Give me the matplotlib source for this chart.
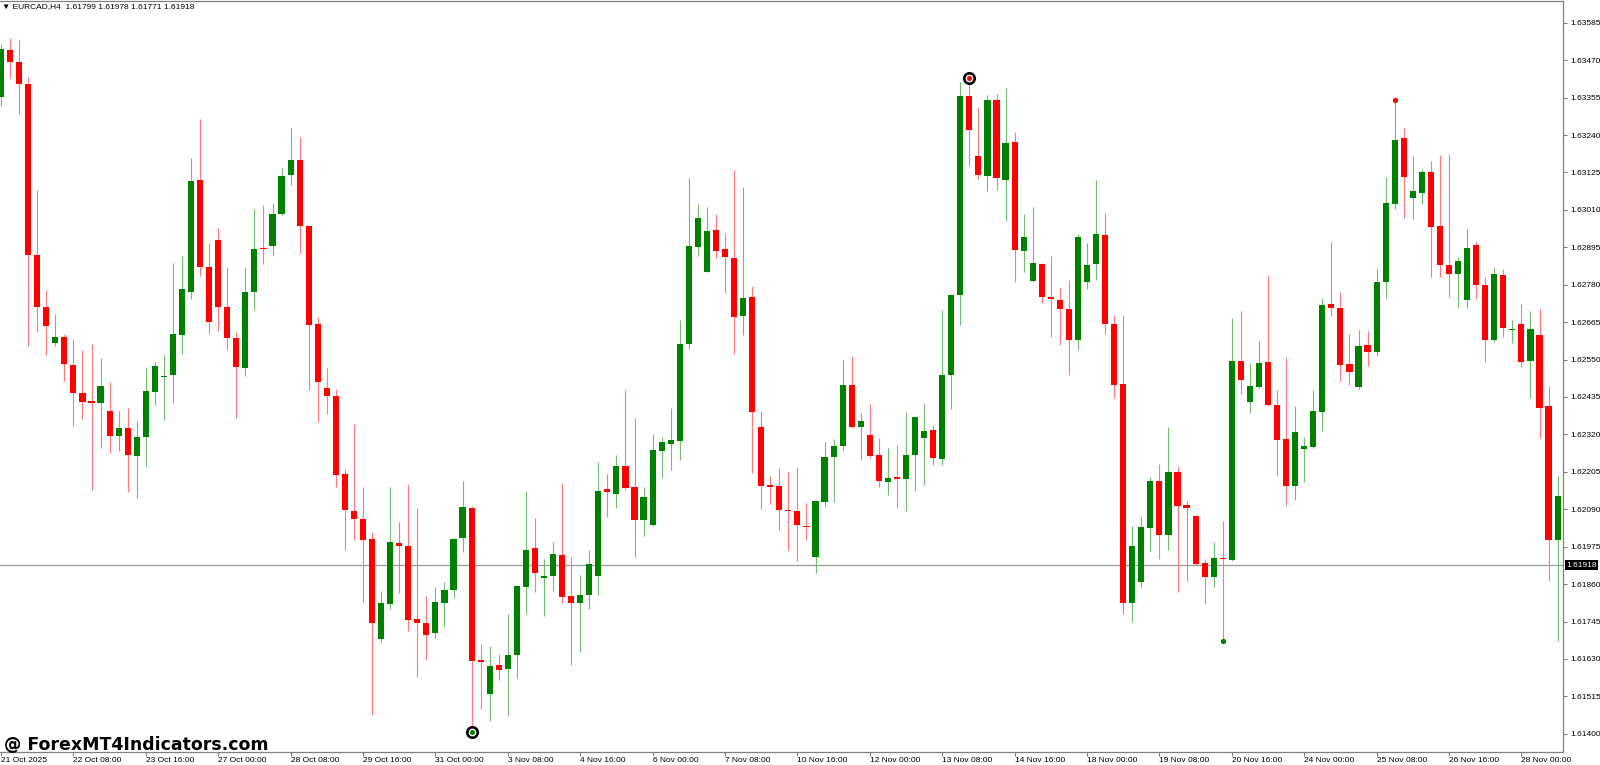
import matplotlib
matplotlib.use("Agg")
import matplotlib.pyplot as plt
from matplotlib.transforms import blended_transform_factory

plt.rcParams['font.family'] = ['Liberation Sans', 'DejaVu Sans']

# ---------------- data (EURCAD, H4) ----------------
opens = [
    1.63358, 1.63500, 1.63464, 1.63397, 1.62870, 1.62713, 1.62602, 1.62618, 1.62534, 1.62447,
    1.62422, 1.62417, 1.62393, 1.62315, 1.62339, 1.62254, 1.62311, 1.62450, 1.62497, 1.62503,
    1.62627, 1.62759, 1.63101, 1.62834, 1.62918, 1.62711, 1.62615, 1.62525, 1.62759, 1.62893,
    1.62900, 1.62996, 1.63116, 1.63163, 1.62959, 1.62659, 1.62462, 1.62438, 1.62197, 1.62084,
    1.62059, 1.62000, 1.61691, 1.61799, 1.61985, 1.61976, 1.61753, 1.61741, 1.61709, 1.61801,
    1.61841, 1.62002, 1.62095, 1.61628, 1.61523, 1.61610, 1.61600, 1.61642, 1.61852, 1.61970,
    1.61880, 1.61886, 1.61949, 1.61823, 1.61801, 1.61828, 1.61885, 1.62153, 1.62138, 1.62224,
    1.62158, 1.62056, 1.62042, 1.62270, 1.62291, 1.62300, 1.62597, 1.62896, 1.62819, 1.62948,
    1.62890, 1.62863, 1.62684, 1.62741, 1.62342, 1.62164, 1.62161, 1.62089, 1.62086, 1.62039,
    1.61943, 1.62113, 1.62252, 1.62285, 1.62471, 1.62344, 1.62317, 1.62257, 1.62174, 1.62188,
    1.62183, 1.62257, 1.62308, 1.62333, 1.62245, 1.62503, 1.62747, 1.63359, 1.63175, 1.63115,
    1.63347, 1.63101, 1.63218, 1.62885, 1.62792, 1.62845, 1.62741, 1.62734, 1.62705, 1.62611,
    1.62789, 1.62843, 1.62933, 1.62659, 1.62474, 1.61802, 1.61865, 1.62033, 1.62177, 1.62011,
    1.62204, 1.62104, 1.62068, 1.61925, 1.61882, 1.61940, 1.61934, 1.62545, 1.62419, 1.62467,
    1.62542, 1.62411, 1.62306, 1.62161, 1.62275, 1.62281, 1.62390, 1.62720, 1.62708, 1.62537,
    1.62467, 1.62594, 1.62572, 1.62788, 1.63029, 1.63232, 1.63047, 1.63062, 1.63128, 1.62959,
    1.62840, 1.62812, 1.62732, 1.62902, 1.62779, 1.62609, 1.62810, 1.62641, 1.62660, 1.62545,
    1.62627, 1.62407, 1.61997,
]
highs = [
    1.63520, 1.63539, 1.63532, 1.63418, 1.63070, 1.62764, 1.62690, 1.62629, 1.62614, 1.62579,
    1.62597, 1.62555, 1.62480, 1.62392, 1.62401, 1.62362, 1.62525, 1.62543, 1.62563, 1.62846,
    1.62869, 1.63169, 1.63289, 1.62908, 1.62953, 1.62834, 1.62635, 1.62834, 1.63014, 1.63025,
    1.63031, 1.63140, 1.63263, 1.63233, 1.62962, 1.62680, 1.62525, 1.62459, 1.62215, 1.62351,
    1.62159, 1.62020, 1.61840, 1.62159, 1.62050, 1.62167, 1.62093, 1.61822, 1.61850, 1.61865,
    1.62002, 1.62176, 1.62099, 1.61675, 1.61670, 1.61645, 1.61769, 1.61856, 1.62146, 1.62063,
    1.61937, 1.61990, 1.62171, 1.61943, 1.61889, 1.61964, 1.62236, 1.62198, 1.62257, 1.62455,
    1.62371, 1.62159, 1.62320, 1.62311, 1.62402, 1.62671, 1.63107, 1.63028, 1.63019, 1.62998,
    1.62938, 1.63133, 1.63079, 1.62777, 1.62392, 1.62192, 1.62218, 1.62204, 1.62219, 1.62110,
    1.62117, 1.62296, 1.62305, 1.62549, 1.62560, 1.62386, 1.62413, 1.62309, 1.62279, 1.62287,
    1.62390, 1.62377, 1.62416, 1.62350, 1.62701, 1.62753, 1.63403, 1.63415, 1.63325, 1.63362,
    1.63367, 1.63385, 1.63250, 1.62998, 1.63019, 1.62848, 1.62867, 1.62771, 1.62794, 1.62936,
    1.62908, 1.63103, 1.63001, 1.62687, 1.62687, 1.62038, 1.62066, 1.62189, 1.62230, 1.62344,
    1.62222, 1.62114, 1.62071, 1.61936, 1.61988, 1.62053, 1.62678, 1.62699, 1.62539, 1.62608,
    1.62810, 1.62458, 1.62557, 1.62407, 1.62311, 1.62455, 1.62740, 1.62912, 1.62758, 1.62630,
    1.62642, 1.62639, 1.62828, 1.63110, 1.63347, 1.63262, 1.63175, 1.63137, 1.63161, 1.63178,
    1.63181, 1.62864, 1.62950, 1.62912, 1.62803, 1.62833, 1.62827, 1.62672, 1.62722, 1.62699,
    1.62704, 1.62470, 1.62192,
]
lows = [
    1.63328, 1.63415, 1.63304, 1.62593, 1.62635, 1.62563, 1.62593, 1.62485, 1.62345, 1.62368,
    1.62150, 1.62278, 1.62263, 1.62270, 1.62143, 1.62125, 1.62224, 1.62410, 1.62365, 1.62416,
    1.62566, 1.62737, 1.62807, 1.62629, 1.62638, 1.62578, 1.62369, 1.62498, 1.62702, 1.62845,
    1.62872, 1.62993, 1.63085, 1.62878, 1.62455, 1.62357, 1.62384, 1.62158, 1.61966, 1.61996,
    1.61804, 1.61457, 1.61681, 1.61783, 1.61834, 1.61717, 1.61574, 1.61627, 1.61694, 1.61732,
    1.61816, 1.61958, 1.61405, 1.61477, 1.61439, 1.61564, 1.61454, 1.61570, 1.61769, 1.61835,
    1.61762, 1.61840, 1.61801, 1.61612, 1.61651, 1.61784, 1.61825, 1.62065, 1.62093, 1.62150,
    1.61942, 1.62009, 1.62039, 1.62186, 1.62212, 1.62240, 1.62584, 1.62867, 1.62818, 1.62861,
    1.62755, 1.62566, 1.62626, 1.62200, 1.62092, 1.62105, 1.62026, 1.61966, 1.61930, 1.61996,
    1.61895, 1.62098, 1.62113, 1.62270, 1.62341, 1.62242, 1.62249, 1.62158, 1.62135, 1.62093,
    1.62086, 1.62147, 1.62165, 1.62227, 1.62225, 1.62398, 1.62656, 1.63145, 1.63106, 1.63067,
    1.63071, 1.62977, 1.62789, 1.62819, 1.62788, 1.62723, 1.62620, 1.62596, 1.62503, 1.62579,
    1.62767, 1.62795, 1.62629, 1.62431, 1.61769, 1.61744, 1.61850, 1.61961, 1.61936, 1.61964,
    1.61837, 1.61870, 1.61919, 1.61798, 1.61850, 1.61685, 1.61930, 1.62443, 1.62387, 1.62462,
    1.62407, 1.62192, 1.62099, 1.62117, 1.62174, 1.62278, 1.62329, 1.62683, 1.62483, 1.62471,
    1.62459, 1.62530, 1.62560, 1.62740, 1.63013, 1.62984, 1.62981, 1.63029, 1.62804, 1.62803,
    1.62741, 1.62707, 1.62710, 1.62735, 1.62543, 1.62603, 1.62618, 1.62600, 1.62527, 1.62432,
    1.62309, 1.61870, 1.61685,
]
closes = [
    1.63505, 1.63466, 1.63397, 1.62870, 1.62711, 1.62654, 1.62618, 1.62537, 1.62447, 1.62419,
    1.62417, 1.62468, 1.62315, 1.62339, 1.62257, 1.62311, 1.62452, 1.62531, 1.62501, 1.62630,
    1.62768, 1.63100, 1.62834, 1.62665, 1.62711, 1.62615, 1.62527, 1.62759, 1.62891, 1.62890,
    1.62996, 1.63115, 1.63164, 1.62959, 1.62657, 1.62482, 1.62438, 1.62195, 1.62089, 1.62060,
    1.61997, 1.61741, 1.61801, 1.61988, 1.61978, 1.61751, 1.61741, 1.61703, 1.61804, 1.61841,
    1.62000, 1.62096, 1.61624, 1.61621, 1.61607, 1.61597, 1.61643, 1.61853, 1.61964, 1.61895,
    1.61886, 1.61951, 1.61820, 1.61802, 1.61828, 1.61922, 1.62147, 1.62143, 1.62224, 1.62155,
    1.62056, 1.62128, 1.62272, 1.62296, 1.62302, 1.62599, 1.62899, 1.62984, 1.62945, 1.62885,
    1.62864, 1.62680, 1.62738, 1.62389, 1.62162, 1.62158, 1.62087, 1.62084, 1.62042, 1.62035,
    1.62114, 1.62252, 1.62285, 1.62473, 1.62344, 1.62360, 1.62254, 1.62177, 1.62185, 1.62183,
    1.62258, 1.62374, 1.62330, 1.62248, 1.62503, 1.62750, 1.63359, 1.63257, 1.63118, 1.63349,
    1.63107, 1.63215, 1.62888, 1.62926, 1.62846, 1.62743, 1.62735, 1.62704, 1.62609, 1.62926,
    1.62842, 1.62935, 1.62660, 1.62473, 1.61802, 1.61976, 1.62036, 1.62177, 1.62011, 1.62206,
    1.62101, 1.62095, 1.61922, 1.61883, 1.61939, 1.61936, 1.62545, 1.62488, 1.62470, 1.62539,
    1.62411, 1.62303, 1.62162, 1.62326, 1.62285, 1.62392, 1.62719, 1.62707, 1.62534, 1.62512,
    1.62593, 1.62572, 1.62789, 1.63031, 1.63226, 1.63110, 1.63067, 1.63125, 1.62956, 1.62840,
    1.62813, 1.62854, 1.62894, 1.62780, 1.62609, 1.62812, 1.62647, 1.62644, 1.62543, 1.62645,
    1.62402, 1.61997, 1.62132,
]

date_labels = ["21 Oct 2025", "22 Oct 08:00", "23 Oct 16:00", "27 Oct 00:00", "28 Oct 08:00",
               "29 Oct 16:00", "31 Oct 00:00", "3 Nov 08:00", "4 Nov 16:00", "6 Nov 00:00",
               "7 Nov 08:00", "10 Nov 16:00", "12 Nov 00:00", "13 Nov 08:00", "14 Nov 16:00",
               "18 Nov 00:00", "19 Nov 08:00", "20 Nov 16:00", "24 Nov 00:00", "25 Nov 08:00",
               "26 Nov 16:00", "28 Nov 00:00"]
date_bars = [0, 8, 16, 24, 32, 40, 48, 56, 64, 72, 80, 88, 96, 104, 112, 120, 128, 136, 144,
             152, 160, 168]
price_ticks = [1.63585, 1.63470, 1.63355, 1.63240, 1.63125, 1.63010, 1.62895, 1.62780,
               1.62665, 1.62550, 1.62435, 1.62320, 1.62205, 1.62090, 1.61975, 1.61860,
               1.61745, 1.61630, 1.61515, 1.61400]
current_price = 1.61918
header = "EURCAD,H4  1.61799 1.61978 1.61771 1.61918"

# zigzag / fractal marks: (bar, side)
ring_marks = [(52, "low"), (107, "high")]
dot_marks = [(135, "low"), (154, "high")]

# ---------------- figure ----------------
W, H = 1600, 765
fig = plt.figure(figsize=(W / 100, H / 100), dpi=100, facecolor="white")
ax_right_px = 1563
ax_top_px, ax_bot_px = 1, 752
ax = fig.add_axes([0, (H - ax_bot_px) / H, ax_right_px / W, (ax_bot_px - ax_top_px) / H])
ax.set_facecolor("white")

n = len(opens)
xs = list(range(n))
up = [c >= o for o, c in zip(opens, closes)]
body_col = ["#008000" if u else "#ff0000" for u in up]
wick_col = ["#6fbf6f" if u else "#ff7a7a" for u in up]

ax.vlines(xs, lows, highs, colors=wick_col, linewidth=0.8, zorder=2)
bottoms = [min(o, c) for o, c in zip(opens, closes)]
heights = [max(abs(c - o), 0.00004) for o, c in zip(opens, closes)]
ax.bar(xs, heights, bottom=bottoms, width=0.68, color=body_col, edgecolor="none",
       linewidth=0, zorder=3)

# current price line
ax.axhline(current_price, color="#9a9a9a", linewidth=0.9, zorder=1)

# markers
for b, side in ring_marks:
    y = lows[b] if side == "low" else highs[b]
    c = "#008000" if side == "low" else "#ff0000"
    ax.plot([b], [y], "o", ms=7.5, mfc="white", mec="black", mew=1.9, zorder=6)
    ax.plot([b], [y], "o", ms=2.6, mfc=c, mec=c, zorder=7)
for b, side in dot_marks:
    y = lows[b] if side == "low" else highs[b]
    c = "#008000" if side == "low" else "#ff0000"
    ax.plot([b], [y], "o", ms=2.8, mfc=c, mec=c, zorder=7)

# scales
px_per_bar = 9.05
ax.set_xlim(-1 / px_per_bar, (ax_right_px - 1) / px_per_bar)
ax.set_ylim(1.61344, 1.63652)

# y axis on right
ax.yaxis.tick_right()
ax.set_yticks(price_ticks)
ax.set_yticklabels([f"{p:.5f}" for p in price_ticks])
ax.tick_params(axis="y", length=3, width=0.8, color="#808080", pad=2, labelsize=6,
               labelcolor="black")

# x axis
ax.set_xticks(date_bars)
ax.set_xticklabels(date_labels, ha="left")
ax.tick_params(axis="x", length=3, width=0.8, color="#808080", pad=0.5, labelsize=6,
               labelcolor="black")

for s in ["top", "right", "bottom"]:
    ax.spines[s].set_color("#808080")
    ax.spines[s].set_linewidth(0.9)
ax.spines["left"].set_visible(False)

# current price label box
trans = blended_transform_factory(ax.transAxes, ax.transData)
ax.text(1.0 + 3 / ax_right_px, current_price, f"{current_price:.5f}", transform=trans,
        color="white", fontsize=6, va="center", ha="left", zorder=10, clip_on=False,
        bbox=dict(boxstyle="square,pad=0.18", fc="black", ec="none"))

# header
fig.text(2 / W, 1 - 7 / H, "\u25bc " + header, fontsize=6, va="center", ha="left",
         color="black")

# watermark
fig.text(4 / W, (H - 750) / H, "@ ForexMT4Indicators.com", fontsize=12.5, fontweight="bold",
         family="DejaVu Sans", va="baseline", ha="left", color="black", zorder=20)

fig.savefig("out.png", dpi=100, facecolor="white")
